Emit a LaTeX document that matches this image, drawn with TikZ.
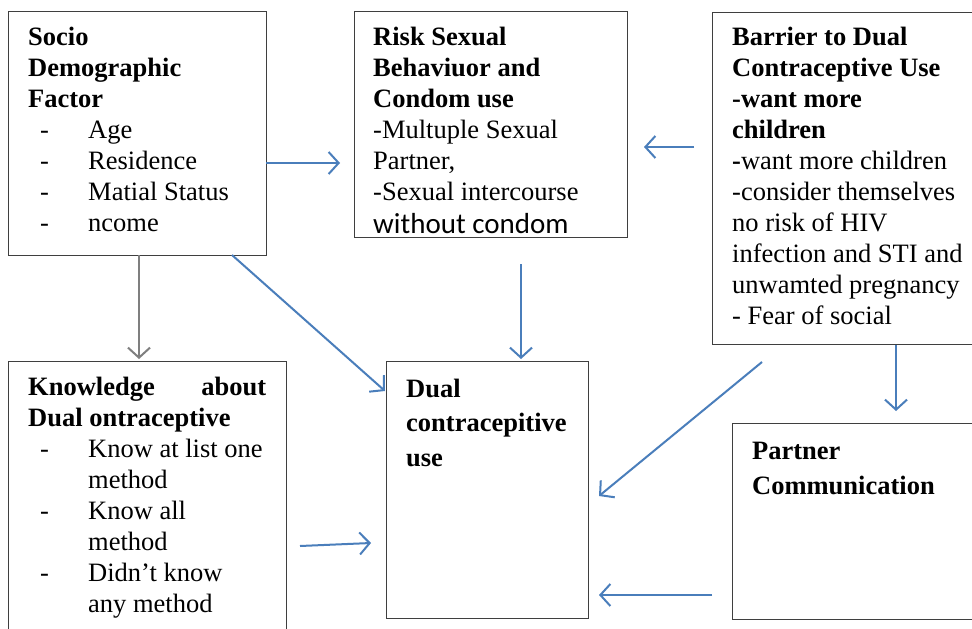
\documentclass[tikz,border=0pt]{standalone}
\usepackage{fontspec}
\setmainfont{Liberation Serif}
\newfontfamily\calib{Carlito}
\usetikzlibrary{arrows.meta}
\definecolor{arblue}{HTML}{4A7EBB}
\definecolor{argray}{HTML}{7F7F7F}
\definecolor{boxline}{HTML}{3F3F3F}
\begin{document}
\begin{tikzpicture}[x=1pt,y=-1pt,
  box/.style={draw=boxline,line width=1.3pt,anchor=north west,inner sep=0pt},
  txt/.style={anchor=base west,inner sep=0pt,font=\fontsize{26.5}{31}\selectfont},
  btxt/.style={anchor=base west,inner sep=0pt,font=\fontsize{26.5}{31}\selectfont\bfseries},
  conn/.style={draw=arblue,line width=2pt,-{Straight Barb[length=10pt,width=22pt]}},
  gconn/.style={draw=argray,line width=2pt,-{Straight Barb[length=10pt,width=22pt]}}]
\useasboundingbox (0,0) rectangle (972,629);
\clip (0,0) rectangle (972,629);
\fill[white] (0,0) rectangle (972,629);

% boxes
\node[box,minimum width=258pt,minimum height=244pt] (socio) at (8,11) {};
\node[box,minimum width=273pt,minimum height=226pt] (risk) at (354,11) {};
\node[box,minimum width=290pt,minimum height=332pt] (barrier) at (712,12) {};
\node[box,minimum width=278pt,minimum height=340pt] (know) at (8,361) {};
\node[box,minimum width=202pt,minimum height=257pt] (dual) at (386,361) {};
\node[box,minimum width=270pt,minimum height=196pt] (partner) at (732,423) {};

% socio text
\node[btxt] (s1) at (28,45) {Socio};
\node[btxt] (s2) at (28,76) {Demographic};
\node[btxt] (s3) at (28,107) {Factor};
\node[txt] (s4d) at (40,138) {-};
\node[txt] (s4) at (88,138) {Age};
\node[txt] (s5d) at (40,169) {-};
\node[txt] (s5) at (88,169) {Residence};
\node[txt] (s6d) at (40,200) {-};
\node[txt] (s6) at (88,200) {Matial Status};
\node[txt] (s7d) at (40,231) {-};
\node[txt] (s7) at (88,231) {ncome};

% risk text
\node[btxt] (r1) at (373,45) {Risk Sexual};
\node[btxt] (r2) at (373,76) {Behaviuor and};
\node[btxt] (r3) at (373,107) {Condom use};
\node[txt] (r4) at (373,138) {-Multuple Sexual};
\node[txt] (r5) at (373,169) {Partner,};
\node[txt] (r6) at (373,200) {-Sexual intercourse};
\node[anchor=base west,inner sep=0pt,font=\calib\fontsize{29}{31}\selectfont] (r7) at (373,233) {without condom};

% barrier text
\node[btxt] (b1) at (732,45) {Barrier to Dual};
\node[btxt] (b2) at (732,76) {Contraceptive Use};
\node[btxt] (b3) at (732,107) {-want more};
\node[btxt] (b4) at (732,138) {children};
\node[txt] (b5) at (732,169) {\textbf{-}want more children};
\node[txt] (b6) at (732,200) {-consider themselves};
\node[txt] (b7) at (732,231) {no risk of HIV};
\node[txt] (b8) at (732,262) {infection and STI and};
\node[txt] (b9) at (732,293) {unwamted pregnancy};
\node[txt] (b10) at (732,324) {- Fear of social};

% knowledge text
\node[btxt] (k1) at (28,395) {\hbox to 238pt{Knowledge\hfill about}};
\node[btxt] (k2) at (28,426) {Dual ontraceptive};
\node[txt] (k3d) at (40,457) {-};
\node[txt] (k3) at (88,457) {Know at list one};
\node[txt] (k4) at (88,488) {method};
\node[txt] (k5d) at (40,519) {-};
\node[txt] (k5) at (88,519) {Know all};
\node[txt] (k6) at (88,550) {method};
\node[txt] (k7d) at (40,581) {-};
\node[txt] (k7) at (88,581) {Didn’t know};
\node[txt] (k8) at (88,612) {any method};

% dual text
\node[btxt] (d1) at (406,397) {Dual};
\node[btxt] (d2) at (406,431) {contracepitive};
\node[btxt] (d3) at (406,466) {use};

% partner text
\node[btxt] (p1) at (752,459) {Partner};
\node[btxt] (p2) at (752,494) {Communication};

% connector end points
\coordinate (a1s) at (266,163); \coordinate (a1e) at (340,163);
\coordinate (a2s) at (694,147); \coordinate (a2e) at (644,147);
\coordinate (a3s) at (139,255); \coordinate (a3e) at (139,359);
\coordinate (a4s) at (232,255); \coordinate (a4e) at (385,391);
\coordinate (a5s) at (521,264); \coordinate (a5e) at (521,359);
\coordinate (a6s) at (762,362); \coordinate (a6e) at (599,496);
\coordinate (a7s) at (896,345); \coordinate (a7e) at (896,411);
\coordinate (a8s) at (300,546); \coordinate (a8e) at (371,543);
\coordinate (a9s) at (712,595); \coordinate (a9e) at (599,595);

\draw[conn] (a1s) -- (a1e);
\draw[conn] (a2s) -- (a2e);
\draw[gconn] (a3s) -- (a3e);
\draw[conn] (a4s) -- (a4e);
\draw[conn] (a5s) -- (a5e);
\draw[conn] (a6s) -- (a6e);
\draw[conn] (a7s) -- (a7e);
\draw[conn] (a8s) -- (a8e);
\draw[conn] (a9s) -- (a9e);
\end{tikzpicture}
\end{document}
